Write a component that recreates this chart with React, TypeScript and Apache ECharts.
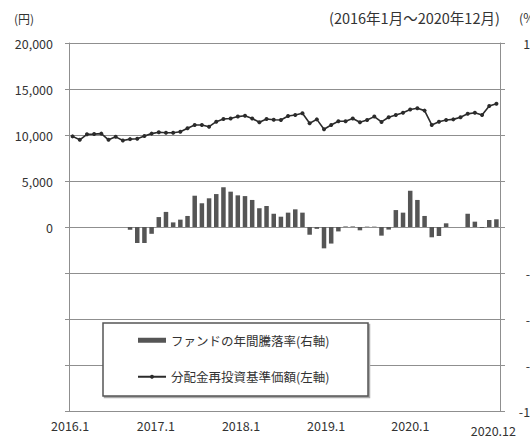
import React, { useEffect, useRef } from "react";
import * as echarts from "echarts";

const FONT = "'Noto Sans CJK JP', 'Noto Sans', sans-serif";

const years = [2016, 2017, 2018, 2019, 2020];
const categories: string[] = [];
years.forEach((y) => {
  for (let m = 1; m <= 12; m++) categories.push(`${y}.${m}`);
});

const xTickIndices = [0, 12, 24, 36, 48, 59];
const leftTicks = [0, 5000, 10000, 15000, 20000];

const barName = "ファンドの年間騰落率(右軸)";
const lineName = "分配金再投資基準価額(左軸)";

// 分配金再投資基準価額 (円)
const navValues = [
  9850, 9480, 10070, 10100, 10150, 9480, 9800, 9400, 9550, 9600, 9900, 10150,
  10300, 10250, 10250, 10350, 10730, 11090, 11090, 10900, 11450, 11740, 11800, 12000,
  12100, 11800, 11380, 11740, 11650, 11630, 12060, 12170, 12360, 11270, 11700, 10620,
  11090, 11500, 11500, 11800, 11380, 11630, 12000, 11420, 11930, 12170, 12420, 12780,
  12900, 12650, 11090, 11450, 11630, 11700, 11930, 12300, 12420, 12170, 13150, 13400,
];

// ファンドの年間騰落率 (%)
const returnValues = [
  null, null, null, null, null, null, null, null, -1.5, -8.7, -8.7, -3.7,
  5.4, 8.2, 2.5, 4.0, 6.0, 17.0, 12.9, 15.6, 17.9, 21.6, 19.2, 17.2,
  16.8, 14.7, 10.2, 11.4, 7.2, 5.6, 7.8, 9.6, 7.8, -4.2, -1.0, -11.6,
  -9.0, -2.4, 0.3, 0.3, -1.8, 0.2, 0.2, -4.7, -1.4, 9.2, 7.8, 19.7,
  14.7, 6.0, -5.6, -4.9, 2.0, 0.0, 0.0, 7.2, 2.9, -0.5, 3.8, 4.2,
];

export default function App() {
  const ref = useRef<HTMLDivElement>(null);
  useEffect(() => {
    if (!ref.current) return;
    const chart = echarts.init(ref.current, undefined, { renderer: "svg" });
    const gridColor = "#8f8f8f";
    const lbl = { fontSize: 12.5, color: "#333", fontFamily: FONT };
    chart.setOption({
      animation: false,
      backgroundColor: "#fff",
      textStyle: { fontFamily: FONT },
      grid: {
        left: 69,
        right: 30,
        top: 43,
        bottom: 25,
        containLabel: false,
        outerBoundsMode: "none",
      },
      graphic: [
        { type: "text", left: 14, top: 12, style: { text: "(円)", fontSize: 12, fill: "#333", fontFamily: FONT } },
        { type: "text", left: 329, top: 10, style: { text: "(2016年1月～2020年12月)", fontSize: 14.5, fill: "#333", fontFamily: FONT } },
        { type: "text", left: 519, top: 11, style: { text: "(%)", fontSize: 12.5, fill: "#333", fontFamily: FONT } },
        {
          type: "rect",
          z: 3,
          shape: { x: 104.5, y: 324.5, width: 265, height: 73 },
          style: { fill: "#aaa", stroke: "#aaa", lineWidth: 1.5 },
        },
        {
          type: "rect",
          z: 4,
          shape: { x: 103, y: 323, width: 265, height: 73 },
          style: { fill: "#fff", stroke: "#555", lineWidth: 1.5 },
        },
      ],
      legend: {
        orient: "vertical",
        left: 137,
        top: 334,
        itemWidth: 28,
        itemHeight: 5,
        itemGap: 24,
        padding: 0,
        z: 6,
        textStyle: { fontSize: 12.5, color: "#333", fontFamily: FONT },
        data: [{ name: barName, icon: "rect" }, { name: lineName }],
      },
      xAxis: {
        type: "category",
        data: categories,
        boundaryGap: true,
        axisLine: { show: false },
        axisTick: { show: false },
        axisLabel: {
          interval: (i: number) => xTickIndices.includes(i),
          margin: 8,
          ...lbl,
          formatter: (v: string, i: number) => {
            if (i === 59) return `{e|${v}}`;
            if (i === 0) return `{a|${v}}`;
            if (i === 12) return `{b|${v}}`;
            if (i === 24) return `{c|${v}}`;
            if (i === 36) return `{d|${v}}`;
            return `{f|${v}}`;
          },
          rich: {
            a: { padding: [0, 5, 0, 0], ...lbl },
            b: { padding: [0, 6, 0, 0], ...lbl },
            c: { padding: [0, 8, 0, 0], ...lbl },
            d: { padding: [0, 10, 0, 0], ...lbl },
            f: { padding: [0, 14, 0, 0], ...lbl },
            e: { padding: [5, 6, 0, 0], ...lbl },
          },
        },
      },
      yAxis: [
        {
          type: "value",
          min: -20000,
          max: 20000,
          interval: 5000,
          position: "left",
          axisLine: { show: true, lineStyle: { color: gridColor, width: 1 } },
          axisTick: { show: true, length: 4, lineStyle: { color: gridColor } },
          splitLine: { show: true, lineStyle: { color: gridColor, width: 1 } },
          axisLabel: {
            margin: 16,
            ...lbl,
            formatter: (v: number) => (leftTicks.includes(v) ? v.toLocaleString("en-US") : ""),
          },
        },
        {
          type: "value",
          min: -100,
          max: 100,
          interval: 25,
          position: "right",
          axisLine: { show: true, lineStyle: { color: gridColor, width: 1 } },
          axisTick: { show: true, length: 5, lineStyle: { color: gridColor } },
          splitLine: { show: false },
          axisLabel: {
            margin: 44,
            align: "right",
            ...lbl,
          },
        },
      ],
      series: [
        {
          name: barName,
          type: "bar",
          yAxisIndex: 1,
          data: returnValues,
          barWidth: 4.5,
          itemStyle: { color: "#555" },
          z: 2,
        },
        {
          name: lineName,
          type: "line",
          yAxisIndex: 0,
          data: navValues,
          symbol: "circle",
          symbolSize: 4,
          showSymbol: true,
          lineStyle: { color: "#2b2b2b", width: 1.6 },
          itemStyle: { color: "#2b2b2b" },
          z: 3,
        },
      ],
    });
    return () => chart.dispose();
  }, []);
  return (
    <div
      ref={ref}
      style={{ position: "absolute", left: 0, top: 0, width: 530, height: 436 }}
    />
  );
}
